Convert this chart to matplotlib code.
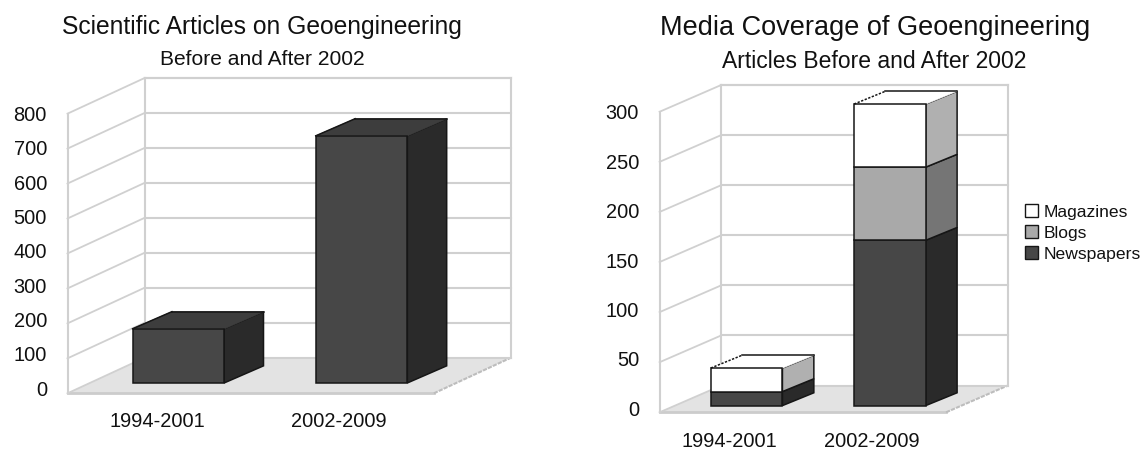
import matplotlib
matplotlib.use("Agg")
import matplotlib.pyplot as plt
from matplotlib.patches import Patch
from matplotlib.transforms import ScaledTranslation

plt.rcParams['font.family'] = ['Liberation Sans', 'DejaVu Sans']

W, H = 1141, 450

periods = ['1994-2001', '2002-2009']

science_ticks = [0, 100, 200, 300, 400, 500, 600, 700, 800]
science_articles = [155, 707]

media_ticks = [0, 50, 100, 150, 200, 250, 300]
newspapers = [14, 165]
blogs = [0, 73]
magazines = [23.5, 63]

FACE_DARK = ('#474747', '#2a2a2a', '#3d3d3d')
FACE_MID = ('#a9a9a9', '#757575', '#a9a9a9')
FACE_WHITE = ('#ffffff', '#b0b0b0', '#ffffff')
GRID = '#d0d0d0'


def make_axes(left, right, bottom, top, ymax, depth_x, depth_y, ticks, xpad, label_shift):
    ax = fig.add_axes([left / W, 1 - bottom / H, (right - left) / W, (bottom - top) / H])
    ax.set_xlim(0, 2 + depth_x)
    ax.set_ylim(0, ymax + depth_y)
    for s in ax.spines.values():
        s.set_visible(False)
    ax.patch.set_alpha(0)
    ax.set_yticks(ticks)
    ax.set_xticks([0.49, 1.48])
    ax.set_xticklabels(periods)
    ax.tick_params(length=0, labelsize=14.4, colors='#111111')
    ax.tick_params(axis='y', pad=14.8)
    ax.tick_params(axis='x', pad=xpad)

    # labels sit a bit tighter than the gridlines in the original
    for v, lab in zip(ticks, ax.get_yticklabels()):
        up = (1 - v / ymax) * label_shift / 100
        lab.set_transform(lab.get_transform() + ScaledTranslation(0, up, fig.dpi_scale_trans))

    # floor and walls
    ax.fill([0, 2, 2 + depth_x, depth_x], [0, 0, depth_y, depth_y], color='#e3e3e3', lw=0, zorder=1, clip_on=False)
    ax.plot([0, 2], [0, 0], color='#cccccc', lw=2, zorder=2, clip_on=False)
    ax.plot([2, 2 + depth_x], [0, depth_y], color='#bdbdbd', lw=1.5, ls=(0, (2, 0.6)), zorder=2, clip_on=False)
    for v in ticks:
        ax.plot([0, depth_x], [v, v + depth_y], color=GRID, lw=1.3, zorder=2, clip_on=False)
        ax.plot([depth_x, 2 + depth_x], [v + depth_y, v + depth_y], color=GRID, lw=1.5, zorder=2, clip_on=False)
    ax.plot([0, 0], [0, ymax], color=GRID, lw=1.5, zorder=2, clip_on=False)
    ax.plot([depth_x, depth_x], [depth_y, ymax + depth_y], color=GRID, lw=1.5, zorder=2, clip_on=False)
    ax.plot([2 + depth_x] * 2, [depth_y, ymax + depth_y], color=GRID, lw=1.5, zorder=2, clip_on=False)
    ax.plot([depth_x, 2 + depth_x], [ymax + depth_y] * 2, color=GRID, lw=1.5, zorder=2, clip_on=False)
    return ax


def box(ax, x, base, height, colors, depth_x, depth_y, near_y, is_top, dotted=False, width=0.5):
    face, side, lid = colors
    x0 = x - width / 2 + 0.25 * depth_x
    x1 = x + width / 2 + 0.25 * depth_x
    dx = 0.51 * depth_x
    y0 = base + near_y * depth_y
    y1 = base + height + near_y * depth_y
    dy = 0.48 * depth_y
    edge = dict(edgecolor='#161616', lw=1.1, zorder=3, clip_on=False)
    ax.fill([x1, x1 + dx, x1 + dx, x1], [y0, y0 + dy, y1 + dy, y1], facecolor=side, **edge)
    if is_top:
        ax.fill([x0, x1, x1 + dx, x0 + dx], [y1, y1, y1 + dy, y1 + dy], facecolor=lid, edgecolor=lid, lw=0.5, zorder=3, clip_on=False)
        ax.plot([x0 + dx, x1 + dx], [y1 + dy, y1 + dy], color='#161616', lw=1.1, zorder=4, clip_on=False)
        ax.plot([x0, x0 + dx], [y1, y1 + dy], color='#161616', lw=1.1, ls=(0, (1.5, 1)) if dotted else '-', zorder=4, clip_on=False)
    ax.fill([x0, x1, x1, x0], [y0, y0, y1, y1], facecolor=face, **edge)


fig = plt.figure(figsize=(W / 100, H / 100), dpi=100)

# left chart
dxl, dyl = 0.421, 102
ax1 = make_axes(67.5, 511, 393.3, 78, 800, dxl, dyl, science_ticks, 13.3, 5)
for i, v in enumerate(science_articles):
    box(ax1, i + 0.5, 0, v, FACE_DARK, dxl, dyl, 0.29, True)

# right chart
dxr, dyr = 0.43, 26.7
ax2 = make_axes(659.6, 1007.7, 412.3, 85, 300, dxr, dyr, media_ticks, 14, 4)
for i in range(len(periods)):
    base = 0
    stack = [(newspapers[i], FACE_DARK), (blogs[i], FACE_MID), (magazines[i], FACE_WHITE)]
    for j, (v, colors) in enumerate(stack):
        if v > 0:
            box(ax2, i + 0.5, base, v, colors, dxr, dyr, 0.25, j == 2, dotted=True)
        base += v

handles = [Patch(facecolor='#ffffff', edgecolor='#161616', label='Magazines'),
           Patch(facecolor='#a9a9a9', edgecolor='#161616', label='Blogs'),
           Patch(facecolor='#474747', edgecolor='#161616', label='Newspapers')]
fig.legend(handles=handles, loc='upper left', bbox_to_anchor=(1025 / W, 1 - 204 / H), frameon=False,
           fontsize=12.6, handlelength=0.75, handleheight=0.75, handletextpad=0.3, labelspacing=0.32,
           borderpad=0, borderaxespad=0, labelcolor='#111111')

# titles
fig.text(262 / W, 1 - 27 / H, 'Scientific Articles on Geoengineering', ha='center', va='center', fontsize=17.75, color='#111111')
fig.text(262 / W, 1 - 59 / H, 'Before and After 2002', ha='center', va='center', fontsize=15.1, color='#111111')
fig.text(875 / W, 1 - 28 / H, 'Media Coverage of Geoengineering', ha='center', va='center', fontsize=19.5, color='#111111')
fig.text(874 / W, 1 - 61 / H, 'Articles Before and After 2002', ha='center', va='center', fontsize=16.5, color='#111111')

fig.savefig('out.png', dpi=100)
